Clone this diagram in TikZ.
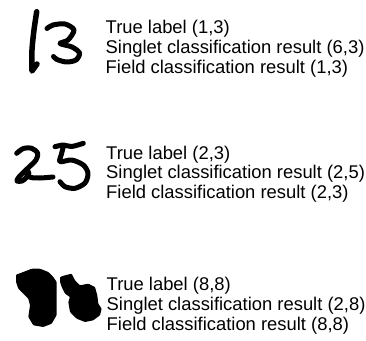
\documentclass[tikz,border=0pt]{standalone}
\usepackage{fontspec}
\setmainfont{Liberation Sans}
\begin{document}
\begin{tikzpicture}[x=1pt,y=-1pt,
  lbl/.style={anchor=base west, inner sep=0pt, font=\fontsize{18.4}{20}\selectfont},
  pen/.style={line width=5pt, line cap=round, line join=round},
  blob/.style={fill=black, rounded corners=0.8pt}]
\useasboundingbox (0,0) rectangle (366,340);
% block 1
\node[lbl] (t1) at (105.5,33) {True label (1,3)};
\node[lbl] (s1) at (105.5,53) {Singlet classification result (6,3)};
\node[lbl] (f1) at (105.5,73) {Field classification result (1,3)};
\draw[pen, line width=5.5pt] plot[smooth] coordinates {(36.7,11.7) (34,30) (32,50) (32,71)} -- (37,64);
\draw[pen] plot[smooth] coordinates {(47,28.5) (53,25) (65,24) (74,30) (68,40) (60,43.5) (72,47) (79.5,53) (76,60) (66.5,62) (57,59.5) (53.5,56.5)};
% block 2
\node[lbl] (t2) at (106,159) {True label (2,3)};
\node[lbl] (s2) at (106,178.5) {Singlet classification result (2,5)};
\node[lbl] (f2) at (106,198) {Field classification result (2,3)};
\draw[pen] plot[smooth] coordinates {(16.7,153.3) (23.3,148.5) (31.7,148.3) (37.5,153) (36,160) (27,169) (19,177) (17,181) (22,181) (27,177) (29,172.5) (27.5,171.5) (27,175) (31,177.5) (40,178) (53,177)};
\draw[pen] plot[smooth] coordinates {(55,146.7) (63.3,145) (71.7,146.5) (83.3,143.3)};
\draw[pen] plot[smooth] coordinates {(63.3,146.7) (61.5,154) (60,161.7) (71.7,160) (83.3,165) (88,173.3) (85,183) (75,188.3) (65,186.7) (60,181.7)};
% block 3
\node[lbl] (t3) at (106.5,290) {True label (8,8)};
\node[lbl] (s3) at (106.5,310) {Singlet classification result (2,8)};
\node[lbl] (f3) at (106.5,330) {Field classification result (8,8)};
\fill[blob] (16,274.7) -- (23.3,272) -- (31.7,268.7) -- (40,268.7) -- (48.3,272) -- (53.3,277) -- (56.7,282) -- (56.7,302) -- (56.7,315) -- (51.7,323.7) -- (43.3,327) -- (33.3,325.3) -- (28.3,317) -- (30,305.3) -- (28.3,298.7) -- (23.3,293.7) -- (18.3,288.7) -- (16,282) -- cycle;
\fill[blob] (60,277) -- (65,275.3) -- (71.7,273.7) -- (75,280.3) -- (80,285.3) -- (88.3,283.7) -- (95,287) -- (97.3,295.3) -- (98.3,303.7) -- (101.7,308.7) -- (100,315.3) -- (93.3,320.3) -- (85,322) -- (76.7,318.7) -- (70,312) -- (68.3,302) -- (70,297) -- (65,293.7) -- (61.7,287) -- (60,282) -- cycle;
\end{tikzpicture}
\end{document}
